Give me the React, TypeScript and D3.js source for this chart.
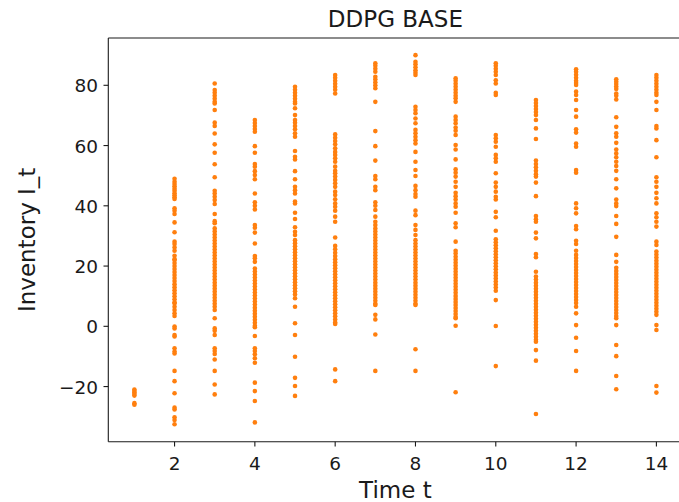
import { useEffect, useRef } from 'react';
import * as d3 from 'd3';

// inventory readings I_t at each time step t
const steps = [1, 2, 3, 4, 5, 6, 7, 8, 9, 10, 11, 12, 13, 14];

const invT1 = [-21, -21.5, -22, -22.5, -23, -25.5, -26];
const invT2 = [49, 48, 47.2, 46.5, 45.7, 45, 44.2, 43.5, 42.8, 42.3,
  39.2, 38.4, 37.3, 34.5, 31.2, 28.1, 27.3, 26.2, 25.1, 23.4, 22.3,
  22, 21, 20, 19, 18, 17, 16, 15, 14, 13, 12, 11, 10, 9, 8, 7.6,
  6.5, 5.4, 4.3, 3.4, -0.1, -0.7, -2.9, -3.4, -7.3, -8.4, -9, -14.8, -18.2, -22.2,
  -27, -27.6, -30.2, -31.1, -32.5];
const invT3 = [80.6, 78.4, 77.5, 76.5, 75.5, 74.5, 74, 71.8, 67.6, 66.5, 64, 60.4, 57.6, 53.8,
  49.5, 45, 44.1, 43, 41.9, 40.6, 37.3, 34.9, 34.2,
  32.5, 31.5, 30.5, 29.5, 28.5, 27.5, 26.5, 25.5, 24.5, 23.5, 22.5, 21.5, 20.5, 19.5, 18.5,
  17.5, 16.5, 15.5, 14.5, 13.5, 12.5, 11.5, 10.5, 9.5, 8.5, 7.5, 6.5, 5.4,
  2.7, -0.7, -1.5, -2.9, -7.3, -8.2, -9.2, -11, -14.8, -19.3, -22.6];
const invT4 = [68.5, 67.5, 66.5, 65.5, 64.6, 59.8, 57.6, 53.9, 53, 51.5, 50.2, 48.8, 44.1,
  41.2, 40, 38.8, 33.6, 32.7, 31.1, 27.5, 23.3, 22.6, 21.4,
  19.2, 18.2, 17.2, 16.2, 15.2, 14.2, 13.2, 12.2, 11.2, 10.2, 9.2, 8.2, 7.2, 6.2, 5.2,
  4.2, 3.2, 2.2, 1.2, 0.2, -0.3,
  -3.2, -7.3, -8.2, -9.3, -10.6, -12.1, -18.7, -21.5, -24.8, -31.9];
const invT5 = [79.5, 78.5, 77.5, 76.5, 75.5, 74.5, 74, 72.4, 70.1, 68.5, 67.6, 66.5, 65.4,
  64.1, 62.9, 58.2, 56.3, 55.4, 51.5, 48.8, 46.3, 45.2, 44.1, 41.4, 40.8, 37.7, 35.6,
  32.9, 31.4, 30.3,
  28.6, 27.6, 26.6, 25.6, 24.6, 23.6, 22.6, 21.6, 20.6, 19.6, 18.6, 17.6, 16.6, 15.6,
  14.6, 13.6, 12.6, 11.6, 10.6, 9.3,
  6.5, 1, -2.9, -10.1, -17.1, -19.8, -23.1];
const invT6 = [83.4, 82.5, 81.5, 80.5, 79.5, 78.5, 77.3,
  63.7, 62.6, 61.5, 60.4, 59.1, 57.9, 56.9, 55.8, 54.6, 53, 51.6, 50.8, 49.7, 48.6,
  47.5, 46.3, 44.7, 43.6, 42.2, 40.8, 39.7, 38.4, 36.4, 34.7, 29.5, 26.7, 25.6, 24.4,
  23.3, 22.3, 21.3, 20.3, 19.3, 18.3, 17.3, 16.3, 15.3, 14.3, 13.3, 12.3, 11.3, 10.3,
  9.3, 8.3, 7.3, 6.3, 5.3, 4.3, 3.3, 2.3, 1.3, 0.8,
  -14.3, -18.2];
const invT7 = [87.3, 86.5, 85.5, 84.5, 82.8, 82, 81, 80, 79, 74.5, 64.8, 59.8, 55,
  49.9, 48.8, 46.3, 45.2, 41.2, 40, 38.6, 36.4, 34.7, 33.6,
  32.5, 31.5, 30.5, 29.5, 28.5, 27.5, 26.5, 25.5, 24.5, 23.5, 22.5, 21.5, 20.5, 19.5,
  18.5, 17.5, 16.5, 15.5, 14.5, 13.5, 12.5, 11.5, 10.5, 9.5, 8.5, 7.5, 7.1,
  3.8, 2.3, -2.7, -14.8];
const invT8 = [90, 87.8, 87, 86, 85, 84.2, 83.4,
  72.9, 71.8, 70.7, 69, 67.4, 65.2, 64.1, 62.9, 61.8, 60.7, 57.9, 54.6, 51.9, 49.9,
  46.6, 45.2, 43.9, 43, 38.4, 36.9, 33.6, 32, 30.3, 28.6,
  27.5, 26.5, 25.5, 24.5, 23.5, 22.5, 21.5, 20.5, 19.5, 18.5, 17.5, 16.5, 15.5, 14.5,
  13.5, 12.5, 11.5, 10.5, 9.5, 8.5, 7.5, 7.1,
  -7.6, -14.8];
const invT9 = [82.3, 81.5, 80.5, 79.5, 78.5, 77.5, 76.5, 75.7, 74.5,
  69.6, 68.5, 67.4, 66, 64.9, 63.5, 60.2, 58.7, 55.4, 52.1, 51, 49.7, 48, 46.3,
  44.3, 43.2, 42.1, 40.8, 39.7, 37.7, 34.2, 32.9, 28.1, 25.1, 24.2,
  23.1, 22.1, 21.1, 20.1, 19.1, 18.1, 17.1, 16.1, 15.1, 14.1, 13.1, 12.1, 11.1, 10.1,
  9.1, 8.1, 7.1, 6.1, 5.1, 4.1, 3.1, 2.7,
  0.2, -21.9];
const invT10 = [87.3, 86.5, 85.5, 84.5, 83.4, 81.7, 80.6, 77.5, 76.8,
  63.5, 62.4, 61.3, 59.6, 56.9, 55.8, 54.6, 50.8, 47.7, 46.3, 44.7, 43, 42.1, 38, 36.2, 31.7,
  28.9, 27.9, 26.9, 25.9, 24.9, 23.9, 22.9, 21.9, 20.9, 19.9, 18.9, 17.9, 16.9, 15.9,
  14.9, 13.9, 12.9, 11.8,
  8.7, 0.1, -13.2];
const invT11 = [75.1, 74.1, 73.1, 72.1, 71.1, 70.1, 68.5, 65.7, 62.2,
  55, 53.9, 52.8, 51.6, 50.5, 49.7, 47.7, 43.2, 36.6, 35.5, 34.7, 31.1, 29.2, 24, 22.9, 18.1,
  16.5, 15.5, 14.5, 13.5, 12.5, 11.5, 10.5, 9.5, 8.5, 7.5, 6.5, 5.5, 4.5, 3.5, 2.5,
  1.5, 0.5, -0.5, -1.5, -2.5, -3.5, -4.5, -5.1,
  -7.9, -11.4, -29.1];
const invT12 = [85.3, 84.5, 83.5, 82.5, 81.5, 80.8, 80.1, 77.9, 76.8, 75.1, 71.8, 69.6,
  65.4, 64.3, 60.7, 59.6, 51.9, 51, 40.8, 39.2, 37.5, 33.3, 32.2, 28.4, 27.3, 25.1,
  23.7, 22.7, 21.7, 20.7, 19.7, 18.7, 17.7, 16.7, 15.7, 14.7, 13.7, 12.7, 11.7, 10.7,
  9.7, 8.7, 7.7, 6.5,
  4.3, 0.4, -3.8, -8.2, -14.8];
const invT13 = [82, 81.2, 80.4, 79.6, 78.8, 77.3, 76.5, 75.3,
  69.4, 66.2, 64.1, 62.9, 60.9, 58.7, 57.4, 56.1, 54.6, 53.2, 51.6, 48.8, 45.8,
  42.1, 40.8, 39.9, 36.6, 34, 29.7, 23.7, 21.4,
  19.4, 18.4, 17.4, 16.4, 15.4, 14.4, 13.4, 12.4, 11.4, 10.4, 9.4, 8.4, 7.4, 6.4,
  5.4, 4.4, 3.4, 2.7,
  0.4, -6.2, -9.9, -16.5, -20.9];
const invT14 = [83.4, 82.5, 81.5, 80.5, 79.5, 78.5, 77.5, 76.8, 74.5, 71.8, 66.5, 65.7,
  61.8, 56.1, 49.5, 48, 46.3, 44.3, 42.5, 40.8, 37.5, 36.2, 34.7, 33.1, 28.1, 27,
  24.8, 23.8, 22.8, 21.8, 20.8, 19.8, 18.8, 17.8, 16.8, 15.8, 14.8, 13.8, 12.8, 11.8,
  10.8, 9.8, 8.8, 7.8, 6.8, 5.8, 4.8, 3.8,
  0.4, -1.2, -19.8, -22];

const inventoryByStep = [invT1, invT2, invT3, invT4, invT5, invT6, invT7,
  invT8, invT9, invT10, invT11, invT12, invT13, invT14];

const xTicks = [2, 4, 6, 8, 10, 12, 14];
const yTicks = [-20, 0, 20, 40, 60, 80];

function App() {
  const svgRef = useRef<SVGSVGElement | null>(null);

  useEffect(() => {
    if (!svgRef.current) return;
    const svg = d3.select(svgRef.current);
    svg.selectAll('*').remove();

    const width = 679;
    const height = 502;
    const left = 108.3, right = 682.5, top = 38, bottom = 441.7;
    const font = 'DejaVu Sans, sans-serif';
    const ink = '#1a1a1a';

    const x = d3.scaleLinear().domain([0.35, 14.65]).range([left, right]);
    const y = d3.scaleLinear().domain([-38.3, 95.7]).range([bottom, top]);

    svg.attr('width', width).attr('height', height);
    svg.append('rect').attr('width', width).attr('height', height).attr('fill', 'white');

    // flatten to (t, value) points
    const points: { t: number; v: number }[] = [];
    steps.forEach((t, i) => {
      inventoryByStep[i].forEach(v => points.push({ t, v }));
    });

    svg.append('g')
      .selectAll('circle')
      .data(points)
      .join('circle')
      .attr('cx', d => x(d.t))
      .attr('cy', d => y(d.v))
      .attr('r', 2.3)
      .attr('fill', '#ff7f0e');

    // spines (right one falls outside the image)
    const spines = svg.append('g').attr('stroke', ink).attr('stroke-width', 1.1);
    spines.append('line').attr('x1', left).attr('x2', left).attr('y1', top).attr('y2', bottom);
    spines.append('line').attr('x1', left).attr('x2', right).attr('y1', bottom).attr('y2', bottom);
    spines.append('line').attr('x1', left).attr('x2', right).attr('y1', top).attr('y2', top);
    spines.append('line').attr('x1', right).attr('x2', right).attr('y1', top).attr('y2', bottom);

    // x ticks
    xTicks.forEach(t => {
      svg.append('line')
        .attr('x1', x(t)).attr('x2', x(t))
        .attr('y1', bottom).attr('y2', bottom + 4.8)
        .attr('stroke', ink).attr('stroke-width', 1.1);
      svg.append('text')
        .attr('x', x(t)).attr('y', 469.5)
        .attr('text-anchor', 'middle')
        .attr('font-family', font).attr('font-size', 18.5)
        .attr('fill', ink)
        .text(String(t));
    });

    // y ticks
    yTicks.forEach(v => {
      svg.append('line')
        .attr('x1', left - 4.8).attr('x2', left)
        .attr('y1', y(v)).attr('y2', y(v))
        .attr('stroke', ink).attr('stroke-width', 1.1);
      svg.append('text')
        .attr('x', 98).attr('y', y(v) + 7)
        .attr('text-anchor', 'end')
        .attr('font-family', font).attr('font-size', 18.5)
        .attr('fill', ink)
        .text(v < 0 ? '\u2212' + Math.abs(v) : String(v));
    });

    svg.append('text')
      .attr('x', (left + right) / 2).attr('y', 27)
      .attr('text-anchor', 'middle')
      .attr('font-family', font).attr('font-size', 23)
      .attr('fill', ink)
      .text('DDPG BASE');

    svg.append('text')
      .attr('x', (left + right) / 2).attr('y', 498)
      .attr('text-anchor', 'middle')
      .attr('font-family', font).attr('font-size', 23)
      .attr('fill', ink)
      .text('Time t');

    svg.append('text')
      .attr('transform', `translate(35,${(top + bottom) / 2}) rotate(-90)`)
      .attr('text-anchor', 'middle')
      .attr('font-family', font).attr('font-size', 23)
      .attr('fill', ink)
      .text('Inventory I_t');

    return () => {
      d3.select(svgRef.current).selectAll('*').remove();
    };
  }, []);

  return (
    <svg ref={svgRef} style={{ position: 'absolute', left: 0, top: 0, display: 'block' }}></svg>
  );
}

export default App;
